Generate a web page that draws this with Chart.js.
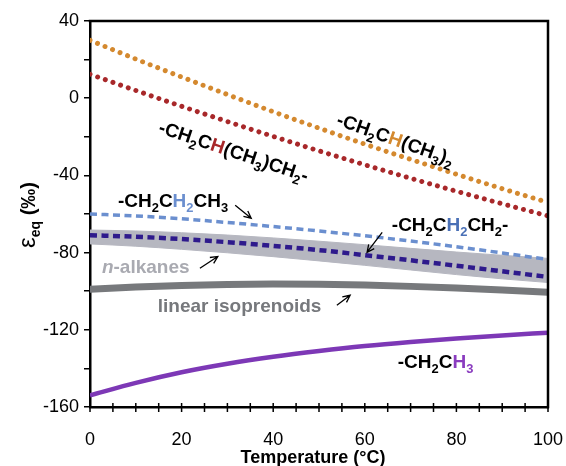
<!DOCTYPE html>
<html>
<head>
<meta charset="utf-8">
<script src="https://cdn.jsdelivr.net/npm/chart.js@4/dist/chart.umd.min.js"></script>
<style>
html,body{margin:0;padding:0;background:#fff;}
#wrap{width:566px;height:466px;}
</style>
</head>
<body>
<div id="wrap"><canvas id="c" width="566" height="466"></canvas></div>
<script>
// ---- data (temperature in °C, epsilon in permil) ----
const temps = [0, 10, 20, 30, 40, 50, 60, 70, 80, 90, 100];
const ch2chCh3_2 = [30, 20.3, 11, 1.9, -7, -15.5, -23.8, -31.7, -39.4, -46.9, -54];
const ch2chCh3ch2 = [12.4, 4, -4.2, -12.1, -19.8, -27.3, -34.5, -41.5, -48.2, -54.7, -61];
const ch2ch2ch3 = [-60, -61, -62.5, -64.4, -66.5, -68.8, -71.3, -74, -77, -80.2, -83.6];
const ch2ch2ch2 = [-71, -71.8, -73, -74.6, -76.5, -78.7, -81.3, -84, -86.8, -89.7, -92.6];
const nAlkanesUpper = [-68.3, -68.8, -69.7, -70.9, -72.4, -74.1, -75.9, -77.8, -79.7, -81.4, -83];
const nAlkanesLower = [-75.5, -76.7, -78.3, -80.1, -82.1, -84.3, -86.6, -89, -91.4, -93.6, -95.5];
const linearIsoprenoids = [-99, -97.8, -97, -96.5, -96.3, -96.4, -96.8, -97.5, -98.4, -99.4, -100.5];
const ch2ch3 = [-154, -147.5, -142, -137.6, -134, -131, -128.4, -126.3, -124.5, -122.9, -121.5];
const yTickLabels = [-160, -120, -80, -40, 0, 40];
const xTickLabels = [0, 20, 40, 60, 80, 100];

const pts = arr => arr.map((v, i) => ({x: temps[i], y: v}));
const FONT = '"Liberation Sans", Arial, sans-serif';

function rich(ctx, x, y, angle, parts, size) {
  ctx.save();
  ctx.translate(x, y);
  ctx.rotate(angle * Math.PI / 180);
  ctx.textBaseline = 'alphabetic';
  ctx.textAlign = 'left';
  let cx = 0;
  const base = size * 0.36;
  for (const p of parts) {
    const fs = p.sub ? size * 0.68 : size;
    ctx.font = (p.italic ? 'italic ' : '') + 'bold ' + fs + 'px ' + FONT;
    ctx.fillStyle = p.c || '#000';
    ctx.fillText(p.t, cx, base + (p.sub ? size * 0.27 : 0));
    cx += ctx.measureText(p.t).width;
  }
  ctx.restore();
}

function arrow(ctx, x1, y1, x2, y2) {
  const a = Math.atan2(y2 - y1, x2 - x1), h = 8, s = 0.45;
  ctx.save();
  ctx.strokeStyle = '#000';
  ctx.lineWidth = 1.3;
  ctx.beginPath();
  ctx.moveTo(x1, y1); ctx.lineTo(x2, y2);
  ctx.moveTo(x2 - h * Math.cos(a - s), y2 - h * Math.sin(a - s));
  ctx.lineTo(x2, y2);
  ctx.lineTo(x2 - h * Math.cos(a + s), y2 - h * Math.sin(a + s));
  ctx.stroke();
  ctx.restore();
}

const labels = [
  {T: 54.1, v: -10.4, rot: 19.5, parts: [{t: '-CH'}, {t: '2', sub: 1}, {t: 'C'}, {t: 'H', c: '#d4892f'}, {t: '(CH'}, {t: '3', sub: 1}, {t: ')'}, {t: '2', sub: 1}]},
  {T: 15.2, v: -14.4, rot: 18.5, parts: [{t: '-CH'}, {t: '2', sub: 1}, {t: 'C'}, {t: 'H', c: '#a8282a'}, {t: '(CH'}, {t: '3', sub: 1}, {t: ')CH'}, {t: '2', sub: 1}, {t: '-'}]},
  {T: 6.1, v: -52.6, rot: 0, parts: [{t: '-CH'}, {t: '2', sub: 1}, {t: 'C'}, {t: 'H', c: '#6b8fcf'}, {t: '2', sub: 1, c: '#6b8fcf'}, {t: 'CH'}, {t: '3', sub: 1}]},
  {T: 65.9, v: -65.2, rot: 0, parts: [{t: '-CH'}, {t: '2', sub: 1}, {t: 'C'}, {t: 'H', c: '#4a70b6'}, {t: '2', sub: 1, c: '#4a70b6'}, {t: 'CH'}, {t: '2', sub: 1}, {t: '-'}]},
  {T: 2.6, v: -87, rot: 0, parts: [{t: 'n', italic: 1, c: '#a9aab1'}, {t: '-alkanes', c: '#a9aab1'}]},
  {T: 14.8, v: -107.3, rot: 0, parts: [{t: 'linear isoprenoids', c: '#76787c'}]},
  {T: 67.2, v: -136.3, rot: 0, parts: [{t: '-CH'}, {t: '2', sub: 1}, {t: 'C'}, {t: 'H', c: '#8a3cbf'}, {t: '3', sub: 1, c: '#8a3cbf'}]}
];
const arrows = [
  [31.7, -55.5, 35.2, -62.2],
  [24.0, -88.1, 27.9, -82.0],
  [63.8, -69.5, 60.5, -79.8],
  [53.9, -107.3, 56.8, -102.1]
];

const deco = {
  id: 'deco',
  afterDraw(chart) {
    const ctx = chart.ctx, xs = chart.scales.x, ys = chart.scales.y, ca = chart.chartArea;
    ctx.save();
    // frame top and right
    ctx.strokeStyle = '#000';
    ctx.lineWidth = 2.5;
    ctx.beginPath();
    ctx.moveTo(ca.left - 1.25, ca.top); ctx.lineTo(ca.right, ca.top); ctx.lineTo(ca.right, ca.bottom + 1.25);
    ctx.stroke();
    // x ticks crossing the axis
    ctx.lineWidth = 1.5;
    ctx.beginPath();
    for (let t = 0; t <= 100; t += 5) {
      const px = xs.getPixelForValue(t);
      ctx.moveTo(px, ca.bottom - 4); ctx.lineTo(px, ca.bottom + 5);
    }
    ctx.stroke();
    // axis titles
    ctx.fillStyle = '#000';
    ctx.font = 'bold 18px ' + FONT;
    ctx.textAlign = 'center';
    ctx.textBaseline = 'middle';
    ctx.fillText('Temperature (°C)', 313, 458);
    ctx.save();
    ctx.translate(28, 215);
    ctx.rotate(-Math.PI / 2);
    ctx.textAlign = 'left';
    ctx.textBaseline = 'alphabetic';
    const p1 = 'ε', p2 = 'eq', p3 = ' (‰)';
    ctx.font = '24px ' + FONT; const w1 = ctx.measureText(p1).width;
    ctx.font = 'bold 20px ' + FONT; const w3 = ctx.measureText(p3).width;
    ctx.font = 'bold 14px ' + FONT; const w2 = ctx.measureText(p2).width;
    let sx = -(w1 + w2 + w3) / 2;
    ctx.font = '24px ' + FONT; ctx.fillText(p1, sx, 7); sx += w1;
    ctx.font = 'bold 14px ' + FONT; ctx.fillText(p2, sx, 12); sx += w2;
    ctx.font = 'bold 20px ' + FONT; ctx.fillText(p3, sx, 7);
    ctx.restore();
    // labels
    for (const L of labels) {
      rich(ctx, xs.getPixelForValue(L.T), ys.getPixelForValue(L.v), L.rot, L.parts, 19);
    }
    for (const a of arrows) {
      arrow(ctx, xs.getPixelForValue(a[0]), ys.getPixelForValue(a[1]), xs.getPixelForValue(a[2]), ys.getPixelForValue(a[3]));
    }
    ctx.restore();
  }
};

new Chart(document.getElementById('c'), {
  type: 'line',
  data: {
    datasets: [
      {label: '-CH2CH(CH3)2', data: pts(ch2chCh3_2), borderColor: '#d4892f', borderWidth: 5, borderDash: [0.01, 8.1], borderCapStyle: 'round', pointRadius: 0, cubicInterpolationMode: 'monotone', order: 1},
      {label: '-CH2CH(CH3)CH2-', data: pts(ch2chCh3ch2), borderColor: '#a8282a', borderWidth: 5, borderDash: [0.01, 8.1], borderCapStyle: 'round', pointRadius: 0, cubicInterpolationMode: 'monotone', order: 1},
      {label: '-CH2CH2CH3', data: pts(ch2ch2ch3), borderColor: '#6b8fcf', borderWidth: 3.5, borderDash: [7, 4.5], pointRadius: 0, cubicInterpolationMode: 'monotone', order: 1},
      {label: '-CH2CH2CH2-', data: pts(ch2ch2ch2), borderColor: '#2e1a8c', borderWidth: 4.5, borderDash: [7, 4.5], pointRadius: 0, cubicInterpolationMode: 'monotone', order: 1},
      {label: 'linear isoprenoids', data: pts(linearIsoprenoids), borderColor: '#77797c', borderWidth: 7, borderCapStyle: 'round', pointRadius: 0, cubicInterpolationMode: 'monotone', order: 2},
      {label: '-CH2CH3', data: pts(ch2ch3), borderColor: '#7d38b6', borderWidth: 4.5, pointRadius: 0, cubicInterpolationMode: 'monotone', order: 1},
      {label: 'n-alkanes upper', data: pts(nAlkanesUpper), borderColor: '#b6b7c0', borderWidth: 1, backgroundColor: '#b6b7c0', fill: '+1', pointRadius: 0, cubicInterpolationMode: 'monotone', order: 5},
      {label: 'n-alkanes lower', data: pts(nAlkanesLower), borderColor: '#b6b7c0', borderWidth: 1, pointRadius: 0, cubicInterpolationMode: 'monotone', order: 5}
    ]
  },
  options: {
    responsive: false,
    animation: false,
    events: [],
    layout: {padding: {left: 0, right: 18, top: 21, bottom: 0}},
    plugins: {legend: {display: false}, tooltip: {enabled: false}},
    scales: {
      x: {
        type: 'linear', min: 0, max: 100,
        afterFit: s => { s.height = 59; s.paddingRight = 0; s.paddingLeft = 0; },
        grid: {display: true, drawOnChartArea: false, drawTicks: false},
        border: {display: true, color: '#000', width: 2.5},
        ticks: {stepSize: 20, padding: 22, color: '#000', font: {family: FONT, size: 18}, callback: v => xTickLabels.includes(v) ? String(v) : ''}
      },
      y: {
        type: 'linear', min: -160, max: 40,
        afterFit: s => { s.width = 90; s.paddingTop = 0; s.paddingBottom = 0; },
        grid: {display: true, drawOnChartArea: false, drawTicks: true, tickLength: 6, color: '#000', lineWidth: 1.5},
        border: {display: true, color: '#000', width: 2.5},
        ticks: {stepSize: 10, padding: 5, color: '#000', font: {family: FONT, size: 18}, callback: v => yTickLabels.includes(v) ? String(v) : ''}
      }
    }
  },
  plugins: [deco]
});
</script>
</body>
</html>
